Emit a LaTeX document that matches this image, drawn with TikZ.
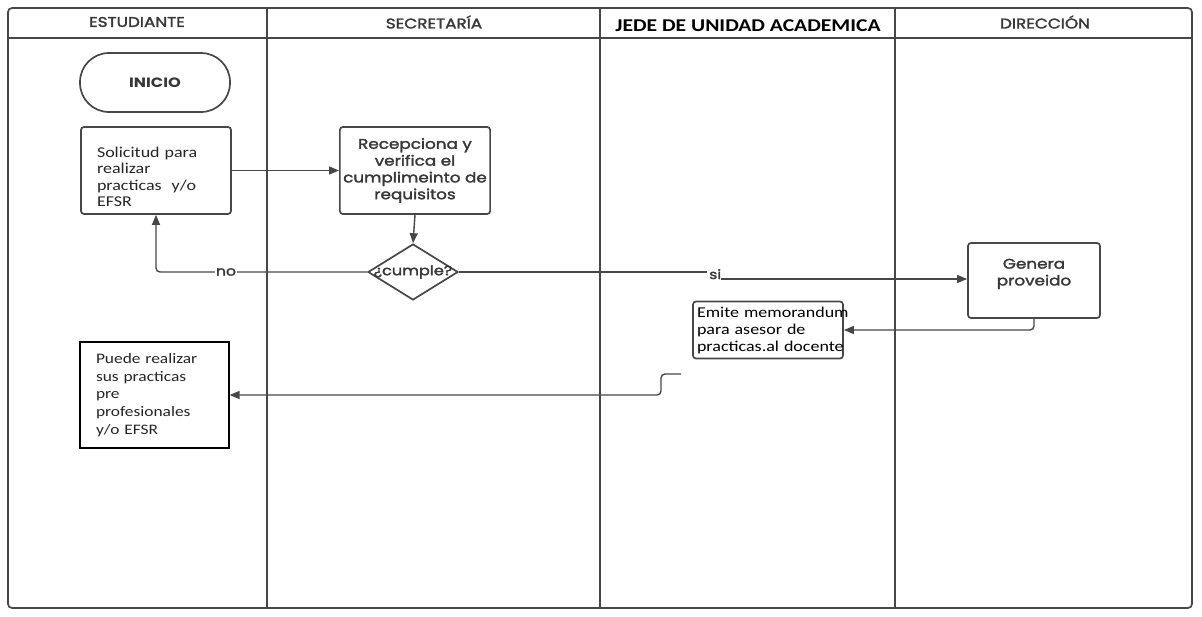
\documentclass[tikz,border=0pt]{standalone}
\usepackage{fontspec}
\setmainfont{Poppins}[FakeStretch=1.2]
\newfontfamily\popm{Poppins}[FakeStretch=1.2,FakeBold=2]
\newfontfamily\carl{Carlito}[FakeStretch=1.2]
\usetikzlibrary{shapes.geometric,arrows.meta}
\definecolor{ln}{HTML}{474747}
\definecolor{tx}{HTML}{383838}
\begin{document}
\begin{tikzpicture}[x=1pt,y=-1pt,
  lane/.style={draw=ln, line width=1.7pt},
  box/.style={draw=ln, line width=1.7pt, rounded corners=3pt, fill=white},
  arr/.style={draw=ln, line width=1.4pt, -{Triangle[length=10pt,width=8pt]}},
  con/.style={draw=ln, line width=1.4pt},
  hd/.style={font=\popm\fontsize{14}{16}\selectfont, text=tx},
  gt/.style={font=\popm\fontsize{14}{16.8}\selectfont, text=tx, align=center},
  ct/.style={font=\carl\fontsize{15}{16.6}\selectfont, text=black!85, align=left}
]
\useasboundingbox (0,0) rectangle (1202,616);
\fill[white] (0,0) rectangle (1202,616);
\draw[lane, rounded corners=4pt] (8,8) rectangle (1192,608);
\draw[lane] (8,38) -- (1192,38);
\foreach \x in {267,600,895} \draw[lane] (\x,8) -- (\x,608);

\node[hd] (hEst) at (137,22) {ESTUDIANTE};
\node[hd] (hSec) at (434,22) {SECRETARÍA};
\node[font=\carl\bfseries\fontsize{18}{20}\selectfont, text=black] (hJef) at (748,26) {JEDE DE UNIDAD ACADEMICA};
\node[hd] (hDir) at (1045,22) {DIRECCIÓN};

\node[box, rounded corners=29pt, minimum width=150pt, minimum height=59pt, font=\bfseries\fontsize{13.5}{15}\selectfont, text=tx] (ini) at (155,82.5) {INICIO};

\node[box, minimum width=150pt, minimum height=87pt, text width=118pt, inner xsep=16pt, ct] (sol) at (156,170.5) {\mbox{\rule{0pt}{23pt}Solicitud para}\\realizar\\\mbox{practicas\ \ y/o}\\EFSR};

\node[box, minimum width=150pt, minimum height=87pt, gt] (rec) at (415,170.5) {Recepciona y\\verifica el\\cumplimeinto de\\requisitos};

\node[draw=ln, line width=1.7pt, diamond, minimum width=90pt, minimum height=56pt, inner sep=0pt, font=\popm\fontsize{13.5}{15}\selectfont, text=tx, fill=white] (dia) at (413,272) {\makebox[0pt]{¿cumple?}};

\node[box, minimum width=132pt, minimum height=75pt, gt] (gen) at (1034,280.5) {Genera\\proveido\\~};

\node[box, minimum width=150pt, minimum height=57pt, text width=142pt, inner xsep=0pt, align=left, font=\carl\fontsize{15}{17}\selectfont, text=black] (emi) at (768,330) {\mbox{Emite memorandum}\\\mbox{para asesor de}\\\mbox{practicas.al docente}};

\node[draw=black, line width=1.2pt, minimum width=149pt, minimum height=106pt, text width=117pt, inner xsep=16pt, align=left, font=\carl\fontsize{14.5}{17.7}\selectfont, text=black!85] (pue) at (154.5,395) {\mbox{Puede realizar}\\\mbox{sus practicas}\\pre\\profesionales\\\mbox{y/o EFSR}};

\draw[arr] (sol.east) -- (rec.west);
\draw[arr] (rec.south) -- (dia.north);
\draw[arr, rounded corners=4pt] (dia.west) -| (sol.south);
\node[font=\popm\fontsize{13}{15}\selectfont, text=tx, fill=white, inner sep=1.5pt] (no) at (226,272) {no};

\coordinate (siL) at (707,272);
\draw[con] (dia.east) -- (siL);
\node[font=\popm\fontsize{13}{15}\selectfont, text=tx, inner sep=0pt, anchor=base west] (si) at (709,279) {si};
\draw[arr] (si.base east) -- (si.base east -| gen.west);

\draw[arr, rounded corners=4pt] (gen.south) |- (emi.east);

\coordinate (st) at (681,374);
\draw[arr, rounded corners=4pt] (st) -- (661,374) |- (pue.east);
\end{tikzpicture}
\end{document}
